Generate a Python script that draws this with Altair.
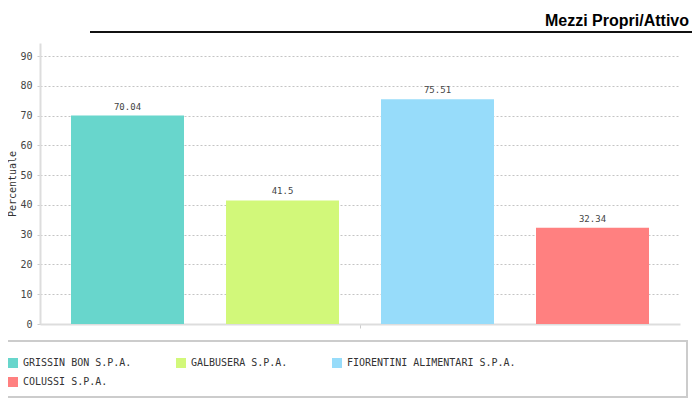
import altair as alt
import pandas as pd

companies = ["GRISSIN BON S.P.A.", "GALBUSERA S.P.A.", "FIORENTINI ALIMENTARI S.P.A.", "COLUSSI S.P.A."]
values = [70.04, 41.5, 75.51, 32.34]
labels = ["70.04", "41.5", "75.51", "32.34"]
colors = ["#68d6cc", "#d2f87a", "#97dcfa", "#ff8080"]
y_ticks = [0, 10, 20, 30, 40, 50, 60, 70, 80, 90]
title_text = "Mezzi Propri/Attivo"
y_title = "Percentuale"

df = pd.DataFrame({"cat": [""] * len(companies), "company": companies,
                   "value": values, "label": labels})

mono = "DejaVu Sans Mono"

x_enc = alt.X("cat:N", title=None,
              scale=alt.Scale(paddingInner=0, paddingOuter=0),
              axis=alt.Axis(labels=False, ticks=True, tickSize=4, tickColor="#ccc",
                            domainColor="#ddd", domainWidth=2, grid=False))
xo_enc = alt.XOffset("company:N", sort=companies,
                     scale=alt.Scale(paddingInner=0.271, paddingOuter=0.2))
y_axis = alt.Axis(values=y_ticks, grid=True, gridDash=[2, 2], gridColor="#c4c4c4",
                  tickColor="#ccc", tickSize=3, domainColor="#ddd", domainWidth=2,
                  labelFont=mono, labelFontSize=10, labelColor="#444", labelOverlap=False,
                  labelPadding=5, titleFont=mono, titleFontSize=10,
                  titleFontWeight="normal", titleColor="#333", titlePadding=2)
y_scale = alt.Scale(domain=[0, 94.4], nice=False, zero=True)
y_enc = alt.Y("value:Q", title=y_title, scale=y_scale, axis=y_axis)

bars = alt.Chart(df).mark_bar().encode(
    x=x_enc, xOffset=xo_enc, y=y_enc,
    color=alt.Color("company:N", sort=companies,
                    scale=alt.Scale(domain=companies, range=colors),
                    legend=alt.Legend(title=None, orient="none", legendX=-32, legendY=315,
                                      direction="horizontal", columns=3, columnPadding=44,
                                      rowPadding=9, symbolType="square", symbolSize=100,
                                      symbolStrokeWidth=0, labelFont=mono, labelFontSize=10,
                                      labelColor="#333", labelOffset=5, padding=0,
                                      labelLimit=300)),
)

texts = alt.Chart(df).mark_text(font=mono, fontSize=9, color="#444", baseline="bottom", dy=-4).encode(
    x=x_enc, xOffset=xo_enc, y=y_enc, text="label:N")

deco = pd.DataFrame({"t": [title_text]})
box = alt.Chart(deco).mark_rect(fill="white", stroke="#ccc", strokeWidth=2).encode(
    x=alt.value(-42), x2=alt.value(647), y=alt.value(298), y2=alt.value(354))
rule = alt.Chart(deco).mark_rule(color="#111", strokeWidth=2).encode(
    x=alt.value(50), x2=alt.value(660), y=alt.value(-11))
title = alt.Chart(deco).mark_text(font="Liberation Sans", fontSize=16, fontWeight="bold",
                                  color="#000", align="right", baseline="alphabetic").encode(
    x=alt.value(649), y=alt.value(-17), text="t:N")

chart = alt.layer(box, bars, texts, rule, title).properties(
    width=640, height=281,
    autosize=alt.AutoSizeParams(type="none"),
    padding={"left": 32, "top": 35, "right": 12, "bottom": 75},
).configure_view(stroke=None)

chart.save("out.html", embed_options={"renderer": "svg", "actions": False})
